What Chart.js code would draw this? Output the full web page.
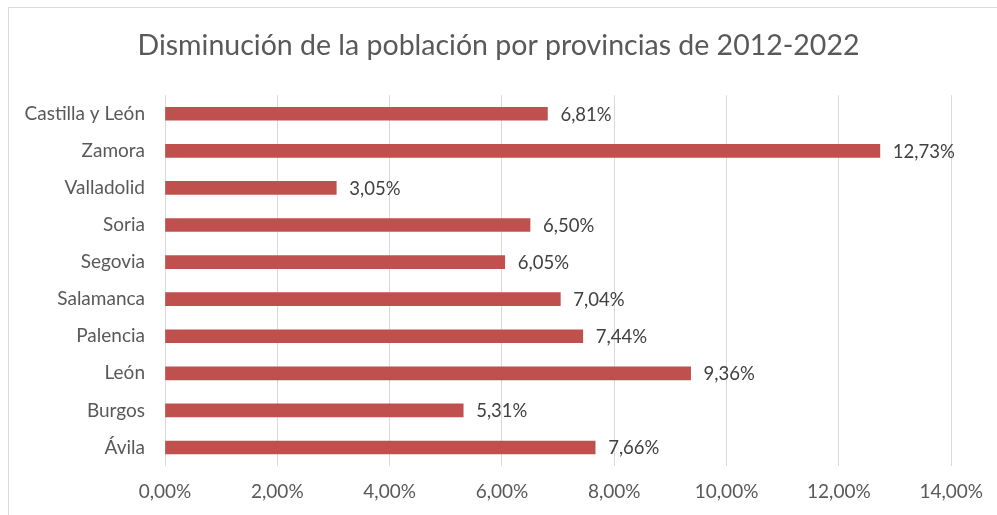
<!DOCTYPE html>
<html>
<head>
<meta charset="utf-8">
<script src="https://cdn.jsdelivr.net/npm/chart.js@4"></script>
<style>
  body { margin: 0; background: #fff; }
  #marco { position: absolute; left: 8px; top: 7px; width: 1000px; height: 520px; border-left: 1px solid #d9d9d9; border-top: 1px solid #d9d9d9; }
  #wrap { position: absolute; left: 0; top: 0; width: 997px; height: 515px; }
</style>
</head>
<body>
<div id="marco"></div>
<div id="wrap"><canvas id="grafico"></canvas></div>
<script>
const provincias = ['Castilla y León', 'Zamora', 'Valladolid', 'Soria', 'Segovia', 'Salamanca', 'Palencia', 'León', 'Burgos', 'Ávila'];
const disminucion = [6.81, 12.73, 3.05, 6.50, 6.05, 7.04, 7.44, 9.36, 5.31, 7.66];
const ticksX = [0, 2, 4, 6, 8, 10, 12, 14];

const fuente = 'Lato, "Liberation Sans", sans-serif';
const pct = v => v.toFixed(2).replace('.', ',') + '%';

// etiquetas al final de cada barra
const etiquetas = {
  id: 'etiquetas',
  afterLayout(chart) {
    // centrar el titulo en todo el ancho del lienzo
    const t = chart.titleBlock;
    if (t) { t.left = 0; t.right = chart.width; t.width = chart.width; }
  },
  afterDatasetsDraw(chart) {
    const c = chart.ctx;
    const meta = chart.getDatasetMeta(0);
    c.save();
    c.font = '18.5px ' + fuente;
    c.fillStyle = '#404040';
    c.textAlign = 'left';
    c.textBaseline = 'middle';
    meta.data.forEach((bar, i) => {
      c.fillText(pct(disminucion[i]), bar.x + 13, bar.y + 1);
    });
    c.restore();
  }
};

new Chart(document.getElementById('grafico'), {
  type: 'bar',
  data: {
    labels: provincias,
    datasets: [{
      data: disminucion,
      backgroundColor: '#C0504D',
      barThickness: 13
    }]
  },
  plugins: [etiquetas],
  options: {
    indexAxis: 'y',
    responsive: true,
    maintainAspectRatio: false,
    animation: false,
    layout: { padding: { left: 0, right: 45, top: 0, bottom: 9 } },
    plugins: {
      legend: { display: false },
      tooltip: { enabled: false },
      title: {
        display: true,
        text: 'Disminución de la población por provincias de 2012-2022',
        color: '#595959',
        font: { family: fuente, size: 28.5, weight: 'normal' },
        padding: { top: 29, bottom: 32 }
      }
    },
    scales: {
      x: {
        min: 0,
        max: 14,
        afterBuildTicks(scale) { scale.ticks = ticksX.map(v => ({ value: v })); },
        afterFit(scale) { scale.height = 40; },
        border: { display: false },
        grid: { color: '#d9d9d9', drawTicks: false },
        ticks: {
          color: '#595959',
          font: { family: fuente, size: 19 },
          padding: 14,
          callback: v => pct(v)
        }
      },
      y: {
        afterFit(scale) { scale.width = 165; },
        border: { display: false },
        grid: { display: false, drawTicks: false },
        ticks: {
          color: '#595959',
          font: { family: fuente, size: 19 },
          padding: 20
        }
      }
    }
  }
});
</script>
</body>
</html>
